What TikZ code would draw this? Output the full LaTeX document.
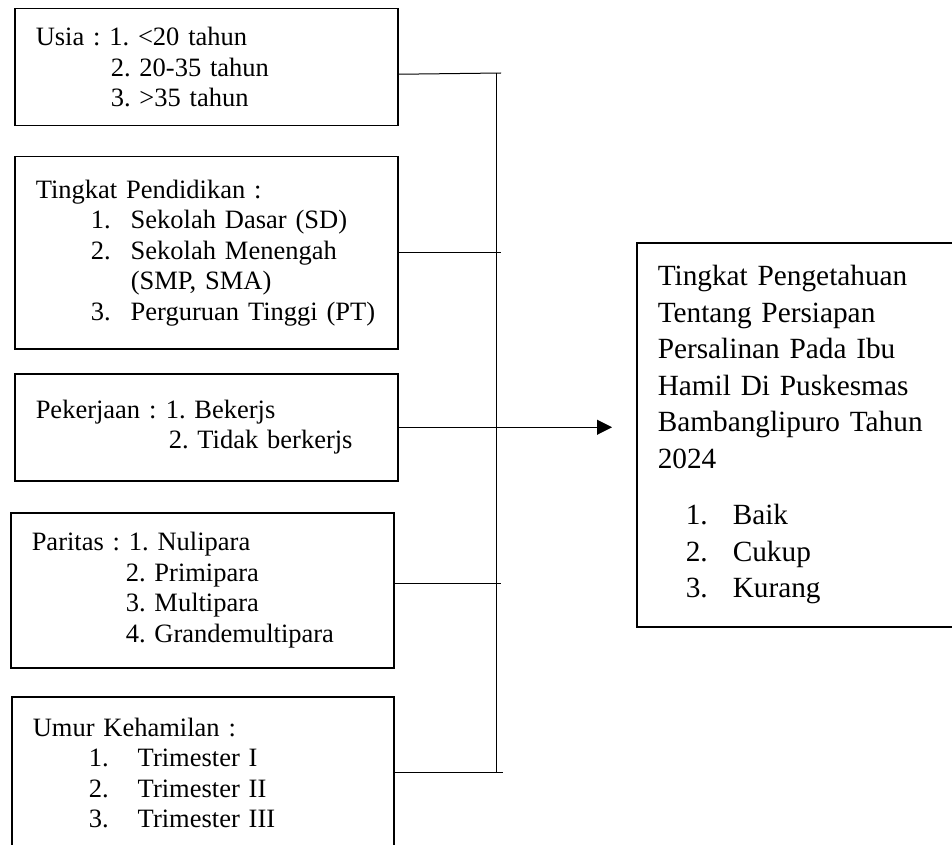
\documentclass[tikz,border=0pt]{standalone}
\usepackage{fontspec}
\setmainfont{Liberation Serif}
\usetikzlibrary{arrows.meta}
\frenchspacing

\tikzset{
  varbox/.style={draw, line width=1.5pt, anchor=north west, align=left,
    inner xsep=21pt, font=\fontsize{26.5}{30.5}\selectfont},
  link/.style={line width=1pt},
}

\begin{document}
\begin{tikzpicture}[x=1pt,y=-1pt]
  \useasboundingbox (0,0) rectangle (952,845);
  \node[varbox, text width=341pt, minimum height=117pt] (usia) at (14,8)
    {Usia : 1. <20 tahun\\
     \hspace*{75pt}2. 20-35 tahun\\
     \hspace*{75pt}3. >35 tahun};
  \node[varbox, text width=341pt, minimum height=192pt] (didik) at (14,156)
    {Tingkat Pendidikan :\\
     \hspace*{55pt}\makebox[40pt][l]{1.}Sekolah Dasar (SD)\\
     \hspace*{55pt}\makebox[40pt][l]{2.}Sekolah Menengah\\
     \hspace*{95pt}(SMP, SMA)\\
     \hspace*{55pt}\makebox[40pt][l]{3.}Perguruan Tinggi (PT)};
  \node[varbox, text width=341pt, minimum height=107pt] (kerja) at (14,373)
    {\makebox[130pt][l]{Pekerjaan :}1. Bekerjs\\
     \hspace*{133pt}2. Tidak berkerjs};
  \node[varbox, text width=341pt, minimum height=155pt] (paritas) at (10,512)
    {Paritas : 1. Nulipara\\
     \hspace*{94pt}2. Primipara\\
     \hspace*{94pt}3. Multipara\\
     \hspace*{94pt}4. Grandemultipara};
  \node[varbox, text width=340pt, minimum height=152pt] (umur) at (11,696)
    {Umur Kehamilan :\\
     \hspace*{56pt}\makebox[49pt][l]{1.}Trimester I\\
     \hspace*{56pt}\makebox[49pt][l]{2.}Trimester II\\
     \hspace*{56pt}\makebox[49pt][l]{3.}Trimester III};
  \node[varbox, text width=284pt, minimum height=384pt,
    font=\fontsize{29.3}{36.5}\selectfont] (hasil) at (636,242)
    {Tingkat Pengetahuan\\
     Tentang Persiapan\\
     Persalinan Pada Ibu\\
     Hamil Di Puskesmas\\
     Bambanglipuro Tahun\\
     2024\\[20pt]
     \hspace*{28pt}\makebox[47pt][l]{1.}Baik\\
     \hspace*{28pt}\makebox[47pt][l]{2.}Cukup\\
     \hspace*{28pt}\makebox[47pt][l]{3.}Kurang};

  \coordinate (jTop) at (496,73);
  \coordinate (jBot) at (496,772);
  \draw[link] (jTop) -- (jBot);
  \draw[link] ([yshift=-7pt]usia.east) -- ([xshift=5pt]jTop);
  \draw[link] (didik.east) -- ([xshift=5pt]didik.east -| jTop);
  \draw[link] (kerja.east) -- (kerja.east -| jTop);
  \draw[link] ([yshift=7pt]paritas.east) -- ([xshift=5pt,yshift=7pt]paritas.east -| jTop);
  \draw[link] (umur.east) -- ([xshift=7pt]umur.east -| jBot);
  \draw[link, -{Triangle[length=15pt,width=15pt]}, shorten >=24pt]
    (kerja.east -| jTop) -- (kerja.east -| hasil.west);
\end{tikzpicture}
\end{document}
